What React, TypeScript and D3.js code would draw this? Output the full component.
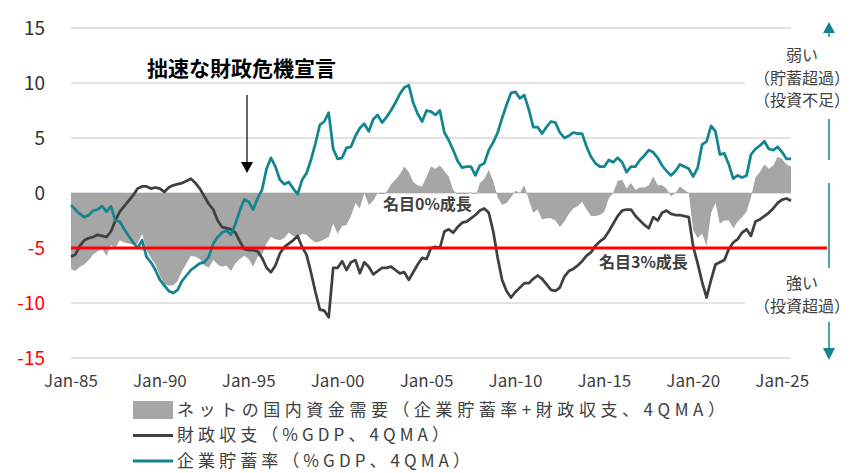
import React from 'react';
import * as d3 from 'd3';

// 四半期データ（1985Q1〜2025Q3）
const corporateSavings: number[] = [
  -1.1, -1.5, -1.9, -2.2, -2.0, -1.6, -1.5, -1.2, -1.7, -1.2,
  -2.5, -2.6, -3.3, -3.9, -4.5, -5.0, -4.3, -5.8, -6.3, -7.0,
  -7.9, -8.4, -8.9, -9.1, -8.8, -8.0, -7.5, -7.0, -6.7, -6.4,
  -6.3, -5.8, -4.6, -4.0, -3.6, -3.4, -3.8, -2.8, -1.6, -0.6,
  -0.8, -1.5, -0.5, 0.3, 2.2, 3.2, 2.4, 1.2, 0.8, 1.0,
  0.4, -0.1, 1.2, 1.8, 3.0, 4.5, 6.2, 6.5, 7.3, 4.0,
  3.1, 3.2, 4.1, 4.2, 5.2, 5.9, 6.3, 5.6, 6.7, 7.1,
  6.4, 6.9, 7.5, 8.2, 9.0, 9.6, 9.8, 8.2, 7.2, 6.5,
  7.5, 7.4, 7.1, 7.5, 5.5, 4.8, 3.9, 2.9, 2.3, 2.4,
  2.4, 1.6, 2.5, 2.7, 3.9, 4.6, 5.5, 6.8, 8.0, 9.1,
  9.2, 8.6, 8.9, 7.6, 6.0, 6.0, 5.4, 6.0, 6.5, 6.4,
  5.5, 5.0, 5.2, 5.5, 5.4, 5.4, 4.2, 3.3, 2.7, 2.4,
  2.4, 3.0, 2.8, 3.2, 2.8, 1.9, 2.4, 2.4, 3.0, 3.4,
  3.9, 3.7, 3.2, 2.5, 2.0, 1.6, 2.0, 2.6, 2.4, 2.2,
  1.5, 2.3, 4.4, 4.7, 6.1, 5.6, 3.5, 3.6, 2.6, 1.3,
  1.6, 1.4, 1.6, 3.5, 4.0, 4.3, 4.7, 4.0, 3.9, 4.2,
  3.7, 3.1, 3.1,
];

const fiscalBalance: number[] = [
  -5.8, -5.6, -4.8, -4.3, -4.1, -4.0, -3.8, -3.9, -4.0, -3.5,
  -2.5, -1.7, -1.2, -0.7, -0.2, 0.4, 0.6, 0.6, 0.4, 0.5,
  0.4, 0.1, 0.5, 0.7, 0.8, 0.9, 1.1, 1.3, 0.9, 0.4,
  -0.3, -1.0, -1.5, -2.5, -3.1, -3.2, -3.3, -3.6, -4.4, -5.1,
  -5.2, -5.2, -5.3, -5.9, -6.8, -7.2, -6.6, -5.5, -4.9, -4.6,
  -4.3, -3.9, -4.9, -5.6, -7.2, -9.0, -10.6, -10.7, -11.3, -6.8,
  -6.8, -6.2, -7.0, -6.3, -6.1, -7.3, -6.3, -6.7, -7.4, -7.1,
  -6.8, -6.8, -6.7, -7.0, -7.3, -7.2, -7.9, -7.2, -6.5, -5.9,
  -6.0, -5.0, -4.9, -5.0, -3.5, -3.3, -3.6, -3.1, -2.7, -2.6,
  -2.3, -2.0, -1.6, -1.4, -1.8, -3.5, -5.9, -7.9, -8.9, -9.5,
  -9.0, -8.6, -8.2, -8.2, -7.8, -7.5, -7.8, -8.3, -8.8, -8.9,
  -8.6, -7.6, -7.1, -6.9, -6.6, -6.2, -5.7, -5.4, -4.8, -4.4,
  -4.1, -3.5, -2.8, -2.1, -1.6, -1.5, -1.5, -2.1, -2.5, -2.9,
  -3.2, -2.2, -2.5, -1.8, -1.6, -1.9, -2.0, -2.0, -2.1, -2.2,
  -4.9, -6.4, -8.1, -9.5, -7.9, -6.5, -6.3, -6.1, -5.1, -4.5,
  -4.2, -3.6, -3.3, -3.9, -2.6, -2.4, -2.1, -1.8, -1.4, -0.9,
  -0.6, -0.5, -0.7,
];

const quarters: Date[] = corporateSavings.map((_, i) => new Date(1985, i * 3, 1));
const xTickYears = [1985, 1990, 1995, 2000, 2005, 2010, 2015, 2020, 2025];
const yTicks = [15, 10, 5, 0, -5, -10, -15];

const legendItems = [
  { label: 'ネットの国内資金需要（企業貯蓄率+財政収支、4QMA）', kind: 'area', len: 548 },
  { label: '財政収支（%GDP、4QMA）', kind: 'fiscal', len: 272 },
  { label: '企業貯蓄率（%GDP、4QMA）', kind: 'corp', len: 293 },
];

const GRAY = '#a6a6a6';
const DARK = '#404040';
const TEAL = '#138591';
const FONT = '"Noto Sans CJK JP", "Noto Sans", sans-serif';

const App: React.FC = () => {
  const width = 860;
  const height = 473;

  const x = d3.scaleTime()
    .domain([quarters[0], quarters[quarters.length - 1]])
    .range([71, 791]);
  const y = d3.scaleLinear().domain([-15, 15]).range([358, 28]);

  // ネットの国内資金需要 = 企業貯蓄率 + 財政収支
  const netDemand = corporateSavings.map((v, i) => v + fiscalBalance[i]);

  const area = d3.area<number>()
    .x((_, i) => x(quarters[i]))
    .y0(y(0))
    .y1(d => y(d));
  const line = d3.line<number>()
    .x((_, i) => x(quarters[i]))
    .y(d => y(d));

  const arrowX = 829;

  return (
    <svg width={width} height={height}
      style={{ position: 'absolute', left: 0, top: 0, background: '#fff' }}
      fontFamily={FONT}>
      {/* grid */}
      {yTicks.map(t => (
        <line key={t} x1={71} x2={791} y1={y(t)} y2={y(t)} stroke="#d9d9d9" strokeWidth={1.5} />
      ))}

      <path d={area(netDemand) || ''} fill={GRAY} />

      {/* 名目0%成長 */}
      <rect x={378} y={194} width={101} height={20} fill="#fff" />
      <text x={383} y={210} fontSize={16} fontWeight="bold" fill={DARK}>名目0%成長</text>

      <path d={line(fiscalBalance) || ''} fill="none" stroke={DARK} strokeWidth={2.75} strokeLinejoin="round" />
      <path d={line(corporateSavings) || ''} fill="none" stroke={TEAL} strokeWidth={2.75} strokeLinejoin="round" />

      <line x1={71} x2={827} y1={y(-5)} y2={y(-5)} stroke="#ff0000" strokeWidth={3} />
      <text x={599} y={268} fontSize={16} fontWeight="bold" fill={DARK}>名目3%成長</text>

      {/* y axis labels */}
      {yTicks.map(t => (
        <text key={t} x={45} y={y(t)} dy="0.35em" textAnchor="end" fontSize={19}
          fill={t < 0 ? '#ff0000' : '#333'}>{t}</text>
      ))}

      {/* x axis labels */}
      {xTickYears.map(yr => (
        <text key={yr} x={x(new Date(yr, 0, 1))} y={387} textAnchor="middle" fontSize={17} fill={DARK}>
          {`Jan-${String(yr).slice(2)}`}
        </text>
      ))}

      {/* title annotation */}
      <text x={147} y={76} fontSize={21} fontWeight="bold" fill="#000">拙速な財政危機宣言</text>
      <line x1={247} x2={247} y1={95} y2={163} stroke="#000" strokeWidth={1.2} />
      <path d="M241,162 L253,162 L247,173 Z" fill="#000" />

      {/* right side annotation */}
      <rect x={745} y={37} width={115} height={80} fill="#fff" />
      <rect x={745} y={268} width={115} height={53} fill="#fff" />
      <g stroke={TEAL} strokeWidth={1.5}>
        <line x1={arrowX} x2={arrowX} y1={32} y2={37} />
        <line x1={arrowX} x2={arrowX} y1={119} y2={160} />
        <line x1={arrowX} x2={arrowX} y1={183} y2={268} />
        <line x1={arrowX} x2={arrowX} y1={322} y2={349} />
      </g>
      <path d={`M${arrowX - 6},33 L${arrowX + 6},33 L${arrowX},22 Z`} fill={TEAL} />
      <path d={`M${arrowX - 6},348 L${arrowX + 6},348 L${arrowX},360 Z`} fill={TEAL} />
      <g fontSize={16} fill={DARK} textAnchor="middle">
        <text x={802} y={61}>弱い</text>
        <text x={802} y={84}>（貯蓄超過）</text>
        <text x={802} y={106}>（投資不足）</text>
        <text x={802} y={289}>強い</text>
        <text x={802} y={312}>（投資超過）</text>
      </g>

      {/* legend */}
      {legendItems.map((item, i) => {
        const cy = 410 + i * 25.5;
        return (
          <g key={item.label}>
            {item.kind === 'area'
              ? <rect x={133} y={cy - 9} width={40} height={18} fill={GRAY} />
              : <line x1={133} x2={173} y1={cy} y2={cy} stroke={item.kind === 'fiscal' ? DARK : TEAL} strokeWidth={3} />}
            <text x={177} y={cy} dy="0.35em" fontSize={17} fill={DARK}
              textLength={item.len} lengthAdjust="spacing">{item.label}</text>
          </g>
        );
      })}
    </svg>
  );
};

export default App;
